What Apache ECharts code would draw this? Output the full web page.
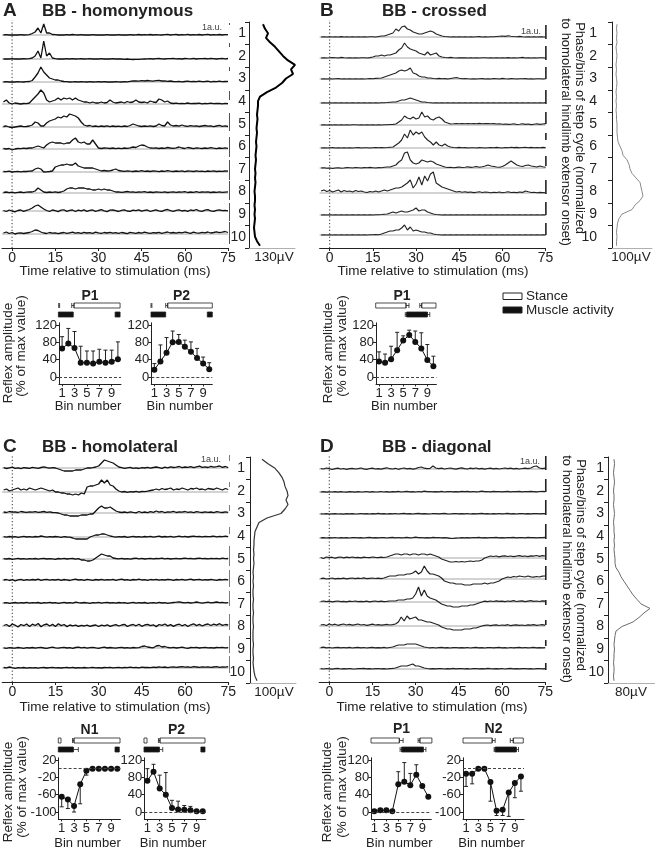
<!DOCTYPE html>
<html><head><meta charset="utf-8">
<script src="https://cdn.jsdelivr.net/npm/echarts@6/dist/echarts.min.js"></script>
<style>html,body{margin:0;padding:0;background:#fff}#c{width:655px;height:853px}</style>
</head><body><div id="c"></div>
<script>
// ---------------- DATA ----------------
const timeStart = -3;            // ms, first sample (1 ms sampling)
const timeTicks = [0, 15, 30, 45, 60, 75];
const binValues = [1, 2, 3, 4, 5, 6, 7, 8, 9, 10];
const binBounds = [0.5, 1.5, 2.5, 3.5, 4.5, 5.5, 6.5, 7.5, 8.5, 9.5, 10.5];
const binTickLabels = [1, 3, 5, 7, 9];
const profileBinStart = 0.6, profileBinStep = 0.2;

// EMG traces (arbitrary units, 1 ms samples from -3 to 75 ms), bins 1..10
const tracesA = [
[0,0.3,0,0,0.2,0,0.3,0,0.2,0.4, 1.5,3,7,2,11,2,2,0.5,0.3,0, 0.2,0,0.3,0,0.5,0.2,0,0.3,0,0.2, 0,0.3,0,0.2,0,0,0.3,0,0.2,0, 0.3,0,0.2,0,0.4,0,0.2,0.5,0,0.3, 0.2,0.5,0,0.4,0.2,0,0.3,0.6,0,0.3, 0.5,0,0.3,0.2,0.6,0,0.4,0.2,0.5,0, 0.3,0.6,0,0.4,0.2,0.5,0,0.4,0.3],
[0,0.2,0,0.3,0,0.2,0,0.3,0.2,0.4, 1,3,8,1,18,3,6,1,0.3,0, 0.2,0,0.3,0,0.4,0,0.2,0.3,0,0.2, 0.3,0,0.2,0,0.3,0,0.2,0,0.3,0, 0.2,0,-0.3,0,-0.4,-0.5,-0.3,-0.4,-0.2,0, 0.2,0.4,0,0.3,0.5,0.2,0,0.4,0.3,0.6, 0.2,0.4,0,0.5,0.3,0.2,0.6,0,0.4,0.3, 0.5,0.2,0.6,0.3,0,0.4,0.6,0.2,0.5],
[0,0.3,0,0.2,0,0.3,0.2,0,0.3,0.5, 1.5,5,9,15,10,7,4,3,2,2, 1,0.5,0.3,0,0.2,0.4,0,0.3,0.2,0, 0.3,0,0.2,0.4,0,0.3,0,0.2,0,0.3, 0.2,0,0.4,0.2,0.6,1,1.2,0.8,1.4,1, 1.5,1.2,0.8,1.3,1.6,1,1.2,0.7,1,0.5, 0.3,0.6,0.2,0.5,0.8,0.3,0.6,0.4,0.9,0.3, 0.5,0.8,0.2,0.6,0.4,0.9,0.3,0.5,0.7],
[2,4,1,0,1,0.5,0,0.5,0.3,1, 4,7,10,14,11,4,2,3,4,6, 4,6,5,6,4,6,4,3,2,2, 1,2,1,1,2,1,1.5,4,2,1, 1.5,2,1,2.5,1.5,2,4,2,1.5,2, 1,3,2,1.5,5,4,2,3,1,0.5, 0.8,0.3,0.6,0.4,1,0.3,0.7,0.5,0.8,0.2, 0.6,0.4,0.9,0.3,0.5,0.7,0.2,0.6,0.4],
[0.5,1,0,-0.5,0,0.5,1,0.3,0.5,1, 2,5,4,1,1,4,6,7,8,10, 9,11,10,13,12,11,9,5,2,1, 1.5,0.5,1,0.3,1,0.5,1.2,0.4,1,0.5, 0.8,0.3,1,0.5,1.5,3,2,1,0.5,1, 0.6,1.2,0.5,1,3,1.5,1,5,2,1, 1.5,0.8,2,1,0.6,1.4,0.8,1.2,0.5,1, 1.5,0.8,1.2,0.4,1,1.6,0.7,1.2,0.5],
[0.5,0,0.5,-1,0,0.5,0.3,0.8,0.5,1, 1,2,3,2,1,4,6,7,6,6, 6,5,6,6,9,11,7,6,7,5, 5,9,5,1,0.5,1,0.8,0.5,1,0.3, 0.8,0.4,1,0.6,1.2,2,1.5,3,4,3.5, 2,1,0.8,1.2,0.5,1,0.7,1.5,1,0.6, 1.2,2,1,0.5,1.5,1,0.4,1.2,0.8,0.5, 1,0.6,1.4,0.8,0.3,1,0.6,1.2,0.7],
[0.5,0.3,0.8,0,0.4,0.6,0.2,0.7,0.5,0.8, 1,3,4,3,0,0.2,0.5,1,5,6, 7,7,8,7,7,9,6,5,4,4, 4,4,3,2,1,1.5,1,1.2,2,3, 1.5,1,0.6,1.2,0.8,0.5,1,0.7,1.4,0.6, 1,0.5,1.2,0.8,0.4,1,0.6,1.3,0.8,0.5, 1,0.7,1.2,0.4,1,0.8,0.5,1.1,0.6,0.9, 0.4,1,0.7,1.2,0.5,0.9,0.6,1,0.8],
[0.5,1,0.3,0.8,0.2,0.6,1,0.4,0.8,1, 1,2,5,3,1,0.5,1,0.6,1.2,0.5, 1,2,4,5,5,4,5,5,5,4, 4,3,3,4,3,4,3,3,2,1, 1.2,0.6,1,1.5,0.8,1.2,0.6,1,0.8,1.3, 0.7,1,0.5,1.2,0.9,0.6,1.1,0.5,0.9,1.2, 0.6,1,0.8,1.4,0.5,1,0.7,1.3,0.6,1, 0.8,1.2,0.5,1,0.7,1.1,0.6,0.9,1.2],
[0.5,-0.5,1,0,-0.8,0.5,1,-0.3,0.6,1.5, 3,5,6,4,2,0.5,-0.5,1,0.3,-0.6, 0.8,1.2,-0.4,0.6,1,-0.5,0.8,0.2,1.2,-0.3, 0.6,1,-0.4,0.5,1.3,0.2,-0.6,0.8,1,0.3, -0.5,0.7,1.1,0,-0.4,0.9,0.3,1.2,-0.2,0.6, 1,-0.5,0.4,1.2,0.2,-0.4,0.8,1.5,0.3,-0.3, 0.6,1.2,0,0.7,-0.4,1,0.4,1.5,0.2,-0.3, 0.8,1.3,0.2,-0.4,0.7,1.1,0.3,0.6,0.2],
[1,2,0.5,1.5,0,0.8,1.2,0.5,1,1.5, 2.5,4,3.5,2,1,0.5,1.5,0.8,1.2,0.4, 1,1.5,0.6,1.2,1.8,0.8,1.4,0.6,1.6,1, 1.4,0.7,1.8,1.1,0.6,1.5,1,1.7,0.8,1.3, 0.6,1.5,1,0.4,1.6,1.2,0.7,1.5,0.9,1.8, 1.2,0.6,1.4,1,1.7,0.7,1.3,2,1,1.5, 0.8,1.6,1.1,2,1.3,0.7,1.8,1.2,0.9,1.6, 1.2,2,1,1.5,2.2,1.3,1.8,2.5,1.5]
];
const tracesB = [
[0,0.2,0,0.3,0,0.2,0,0.4,0,0.2, 0,0.3,0,0.2,0,0.3,0,0.2,0.3,0, 0.5,1,1,2,3,4,8,6,10,11, 8,7,5,4,3,3,4,5,6,5, 3,2,1,0.5,0.3,0,0.2,0,0.3,0, 0.2,0,0.3,0,0.2,0.4,0,0.2,0,0.3, 0.2,0.5,0.8,1,0.6,1.2,0.8,0.5,0.3,0.6, 0.2,0,0.3,0,0.2,0,0.3,0.1,0],
[0,0.3,0,0.2,0.5,0.3,0,0.6,0.2,0, 0.3,0,0.2,0,0.3,0.2,0,0.4,1,2, 2,3,2,3,3,4,5,8,10,15, 11,9,8,7,5,4,3,6,3,4, 5,2,1,0.5,0.3,0.6,0.2,0,0.3,0.1, 0.2,0,0.3,0,0.2,0,0.3,0.2,0,0.2, 0,0.3,0,0.2,0,0.4,0,0.2,0,0.3, 0.6,0,0.2,0,0.3,0,0.2,0.3,0],
[0,0.2,0,0.3,0,0.2,0.4,0,0.2,0, 0.3,0,0.2,0,0.3,0,0.2,0.5,0.3,0.6, 0.8,1,2,3,4,5,6,8,9,8, 9,11,6,5,3,2,2,1,1,0.5, 0.3,0.6,0.2,0.4,0,0.5,1,1.5,0.8,0.3, 0.5,0.2,0,0.3,0,0.2,0.4,0,0.2,0, 0.5,0.3,0,0.6,0.2,0,0.4,0.2,0,0.3, 0.2,0.4,0,0.2,0,0.3,0.2,0,0.2],
[0,0.2,0,0.2,0,0.3,0,0.2,0,0.2, 0,0.2,0,0.3,0,0.2,0,0.2,0,0.3, 0,0.2,0.3,0.5,0.8,1,1,2,3,3, 4,5,4,3,2,1,1,0.5,0.3,0, 0.2,0,0.3,0,0.2,0,0.2,0,0.3,0, 0.2,0,0.3,0,0.2,0,0.3,0,0.2,0, 0.2,0,0.3,0,0.2,0,0.3,0,0.2,0, 0.3,0,0.2,0,0.3,0,0.2,0,0.4],
[0,0.3,0,0.2,0,0.3,0,0.2,0,0.3, 0,0.2,0.3,0,0.2,0,0.3,0,0.2,0, 0.3,0,0.2,0.3,0.5,0.6,1,3,5,9, 7,6,8,6,7,13,8,9,6,5, 7,8,6,3,2,1,1.2,1.5,1.2,1.5, 1.3,1.5,1.2,1.5,1.3,1.6,1.2,1.4,1.5,1.2, 1.4,1,1.2,0.8,1,0.6,0.8,1.2,0.5,0.8, 1.2,0.6,1,0.4,0.8,1.2,0.6,1,1.4],
[0,0.3,0,0.2,0.4,0,0.3,0,0.2,0, 0.3,0,0.2,0.4,0,0.3,0.2,0,0.3,0.5, 0.2,0.4,0.3,0.5,0.8,1,3,5,8,14, 10,18,13,16,14,16,11,8,6,3, 6,3,2,4,2,1,0.5,0.3,0.6,0.2, 0.4,0,0.3,0.2,0,0.4,0.2,0,0.3,0.5, 0.2,0.6,0.3,0,0.5,0.2,0.8,0.4,0.6,0.2, 0.5,0.8,0.3,0.6,0.2,0.5,0.3,0.6,0.4],
[0,0.3,-0.3,0,-0.5,0,0.3,-0.2,0,0.4, 0.2,0,0.5,0.3,0,0.4,0.2,0.6,0.3,0, 0.4,0.3,0.8,1,1,2,3,6,8,15, 16,8,5,4,5,8,7,6,7,6, 4,3,2,1,0.5,0.8,0.3,0.6,1,0.5, 0.8,1.2,0.6,1,1.5,0.8,1.2,2,3,2, 1.5,1,0.8,1.5,3,5,7,5,3,2, 1.5,2.5,3,2,1.5,1,2,1.2,0.8],
[2,3,1.5,2.5,1,2,3,1,2.5,1.5, 2,1,2.5,1.5,2,1,0.5,1.5,1,2, 1,2,3,2,3,4,5,5,6,8, 10,13,5,9,16,8,17,12,19,21, 10,8,6,5,4,3,2,1,1.5,0.8, 1.2,0.6,1,0.4,0.8,1.2,0.5,1,0.7,0.3, 0.8,0.5,1,0.3,0.7,1.2,0.5,0.8,0.4,1, 0.6,2,1.2,0.5,0.8,0.3,0.6,0.4,0.2],
[0,0.2,0,0.3,0,0.2,0,0.2,0,0.3, 0,0.2,0,0.3,0,0.2,0,0.3,0,0.2, 0.3,0.5,0.8,1,2,3,2,3,4,3, 3,4,5,7,4,5,5,3,2,1, 0.5,0.3,0,0.2,0,0.3,0,0.2,0,0.3, 0,0.2,0,0.3,0,0.2,0,0.3,0,0.2, 0,0.3,0,0.2,0,0.3,0,0.2,0,0.3, 0,0.2,0,0.3,0,0.2,0,0.3,0],
[0,0.2,0,0.3,0,0.2,0,0.3,0,0.2, 0,0.3,0,0.2,0,0.3,0,0.2,0.3,0.5, 0.3,1,2,3,4,4,5,5,7,10, 5,8,4,5,4,3,3,2,2,1, 0.5,0.3,0,0.2,0,0.3,0,0.2,0,0.3, 0,0.2,0,0.3,0,0.2,0,0.3,0,0.2, 0,0.3,0,0.2,0,0.3,0,0.2,0,0.3, 0,0.2,0,0.3,0,0.2,0,0.3,0]
];
const tracesC = [
[0.3,-0.5,0.2,0.8,-0.3,0.2,-0.6,0.4,0,-0.4, 0.6,0.2,-0.3,0.5,1.2,0.4,-0.2,0.3,0,-1, -2,-3,-3,-3,-3,-2,-2,-2,-1,0, 0,0.3,1,2,5,8,7,6,5,3, 1,0.3,-0.4,0.2,0.6,-0.3,0.2,-0.5,0.4,0, 0.6,-0.2,0.5,1,0.3,-0.4,0.8,0.2,1.2,0.5, 0.8,1.5,0.4,1,0.6,1.4,0.3,1.1,1.8,0.6, 1.2,0.5,1.6,0.8,1.3,2,0.7,1.5,0.4],
[2,3,1,2,3,4,2,3,2,4, 3,2,3,4,3,2,1,2,0,0, -1,-1,-2,-2,-3,-2,-3,-1,-2,5, 6,6,7,8,12,9,12,7,6,3, 1,0,0.5,-0.3,0.4,0,0.6,-0.2,0.5,0.3, 0.8,1.5,2,3,2,3.5,2.5,3,4,2, 3,2.5,4,3,2,3.5,3,4,2.5,3, 2,3.5,3,2.5,4,3,2,3.5,2.5],
[1,0.5,1.5,0.8,1.2,0.5,1.5,1,0.6,1.2, 0.8,1.4,0.6,1,1.5,0.7,1.2,0.5,0.3,0, -1,-2,-2,-3,-3,-3,-3,-2,-2,-2, -1,-1,2,5,7,5,5,6,4,2, 1,0.5,1,0.3,1.2,0.6,0.2,1.5,0.4,1, 0.3,1.4,0.6,2,0.8,1.5,0.4,1.2,0.8,1.6, 0.5,1.2,0.9,1.5,0.6,1.1,0.4,1.3,0.8,0.5, 1.2,0.7,1,0.4,1.3,0.8,0.5,1.1,0.6],
[0.3,-0.2,0.5,0,0.4,-0.3,0.2,0.6,0,0.3, -0.2,0.5,0.2,1,0.4,-0.2,0.3,0,0.5,0.2, -0.3,0.4,0,-0.2,-1,-2,-2,-2,-2,-2, 0,1,2,2,3,3,2,1,0.3,-0.2, 0.4,0,0.5,-0.3,0.2,0.6,0,0.3,-0.2,0.5, 0.1,0.6,-0.2,0.4,0.8,0,0.5,0.2,0.7,-0.1, 0.4,0.9,0.2,0.6,0,0.5,0.8,0.3,0.6,0.2, 0.7,0.3,0.5,0.9,0.2,0.6,0.4,0.8,0.3],
[0.3,0,0.5,-0.3,0.2,0.6,0,0.3,-0.2,0.4, 0.1,0.5,-0.2,0.3,0.6,0,0.4,0.2,-0.3,0.5, 0.2,0.6,0,0.3,0.5,-0.2,0.4,-1,-1,-2, -2,-1,1,3,5,4,3,3,1,0.5, 0.2,0.6,0,0.4,-0.2,0.5,0.8,0.2,0.6,0, 0.4,0.7,0.1,0.5,0.3,0.8,0.2,0.6,0,0.4, 0.7,0.2,0.5,0.9,0.3,0.6,0.1,0.5,0.8,0.3, 0.5,0.2,0.7,0.4,0.6,0.2,0.8,0.4,0.5],
[0,0.5,-0.5,0.3,-0.8,0.2,0.6,-0.3,0.4,-0.2, 0.5,0,0.8,-0.4,0.3,0.6,-0.2,0.4,0,0.7, -0.3,0.5,0.2,-0.5,0.4,0.8,0,0.3,-0.4,0.6, 0.2,-0.3,0.5,0,0.7,-0.2,0.4,0.1,0.6,-0.3, 0.3,0.8,0,0.4,-0.3,0.5,0.2,0.9,0,0.3, -0.4,0.5,0.2,0.7,-0.2,0.4,0,0.6,0.3,-0.3, 0.5,0.1,0.7,-0.2,0.4,0.8,0,0.3,0.6,-0.2, 0.4,0,0.6,0.2,-0.3,0.5,0.1,0.7,0.2],
[0,0.4,-0.3,0.2,0.5,-0.2,0.3,0,0.6,-0.2, 0.3,0.1,0.5,-0.3,0.4,0.2,0.7,0,0.3,-0.4, 0.2,0.6,0,0.4,-0.2,0.8,0.3,0,0.5,0.2, -0.3,0.4,0.1,0.6,-0.1,0.3,0.7,0,0.4,-0.2, 0.5,0.1,0.3,-0.4,0.2,0.6,-0.2,0.3,0,0.5, -0.3,0.2,0.4,-0.2,0.6,0,0.3,-0.4,0.2,0.5, 0.8,1.2,0.5,0.2,0.6,0,0.4,1,0.3,-0.2, 0.4,0.8,0.2,0.5,1,0.3,0.6,0.2,0.4],
[0.5,1.5,-0.5,2,0.8,-1,1.5,0.3,2,-0.5, 1.8,0.5,2.5,-0.8,1.2,2,0,1.6,-0.5,2.2, 0.4,1.5,-0.6,1,0.2,0.8,-0.4,0.6,0,0.9, -0.3,0.5,1,-0.5,0.8,0.2,1.2,-0.4,0.7,1.4, 0,1,1.6,-0.5,0.8,1.5,0.2,1.8,-0.3,1, 1.7,0.3,1.2,-0.6,1.5,0.6,2,0.1,1.4,-0.4, 1.1,1.8,0.2,1.5,-0.5,1.2,2.2,0.4,1.6,0, 1.3,2,0.5,1.8,0.8,2.3,0.6,1.5,1],
[0.2,-0.3,0.4,0,-0.2,0.5,0.1,-0.4,0.3,0, 0.5,-0.2,0.3,0.6,0,-0.3,0.4,0.8,0.2,-0.2, 0.3,0.7,0,0.4,-0.3,0.5,0.9,0.2,0.6,-0.1, 0.3,0.7,0.1,-0.3,0.4,0.8,0,0.5,0.2,-0.2, 0.4,0.6,0,0.3,-0.2,0.5,0.2,0.4,1.5,2, 1,0.5,0.2,2,2.5,1,1.5,0.5,0.2,0.6, 0,0.4,0.8,0.2,-0.3,0.5,0.3,0.7,0,0.4, 0.6,0.2,0.4,0,0.5,0.3,0.6,0.2,0.4],
[0.5,0.2,1,0.3,-0.3,0.4,0.1,0.5,-0.2,0.3, 0.1,0.4,-0.2,0.3,0.5,0,0.3,0.6,0.1,0.4, 0,0.3,0.5,0.2,0.6,0,0.4,0.2,0.5,0.1, 0.3,0.6,0.2,0.4,0,0.5,0.3,0.7,0.1,0.4, 0.6,0.2,0.5,0.3,0.8,0.4,0.6,0.2,0.9,0.5, 0.7,0.3,0.9,0.5,1.1,0.6,1,0.4,0.8,1.2, 0.6,1,1.4,0.8,1.2,0.7,1.3,1,0.6,1.1, 0.8,1.2,0.6,1,1.3,0.7,1.1,0.9,1.4]
];
const tracesD = [
[0.5,0,1,0.3,-0.5,0.4,0.8,0,0.5,-0.3, 0.3,0.7,0,0.4,1,0.2,-0.4,0.5,0.8,0, 0.4,-0.2,0.6,1.2,0.3,0,0.7,-0.3,0.5,1, 0.2,0.6,-0.2,0.4,1.5,2,0.8,0.3,0.6,3, 1,0.4,0.8,0,0.5,1,0.3,-0.2,0.6,1.2, 0.4,0,0.8,0.3,1,0.2,0.6,-0.1,0.5,0.9, 0.2,0.7,0,0.5,1,0.3,0.8,0.2,0.6,0, 0.5,0.9,0.3,1,2.5,3,1,0.4,0.8],
[0,0.3,-0.2,0.2,0,0.4,-0.1,0.3,0,-0.2, 0.3,0.1,-0.2,0.4,0,0.2,0.5,-0.1,0.3,0, 0.2,0.5,0,0.3,-0.2,0.4,0.1,0.6,0,0.3, 0.7,0.2,0.4,0,0.5,0.2,0.8,0.3,0.5,0.1, 0.4,0.2,0.6,0,0.3,0.5,0.1,0.4,0.2,0.6, 0.3,0.7,0.1,0.5,0.2,0.4,0.8,0.3,0.5,0.2, 0.6,0.3,0.5,0.1,0.4,0.7,0.2,0.5,0.3,0.6, 0.2,0.5,0.3,0.6,0.4,0.2,0.5,0.7,0.4],
[0.2,0,0.3,-0.2,0.1,0.4,0,0.2,-0.1,0.3, 0.1,0.4,0,0.2,0.5,0.1,0.3,0,0.4,0.2, 0.6,0.1,0.3,0,0.4,0.2,0.5,0,0.3,0.6, 0.2,0.4,0,0.3,0.6,0.1,0.4,0.2,0,0.5, 0.3,0.1,0.4,0.6,0.2,0,0.3,0.5,0.1,0.4, 0.2,0.5,0,0.3,0.1,0.4,0.6,0.2,0.3,0, 0.4,0.2,0.5,0.1,0.3,0.6,0.2,0.4,0,0.3, 0.5,0.2,0.4,0.1,0.3,0.5,0.2,0.4,0.3],
[0.2,0.4,0,0.3,0.1,0.5,0,0.3,0.2,0.4, 0,0.3,0.5,0.1,0.4,0,0.3,0.6,0.2,0.4, 0.1,0.5,0.3,0,0.4,0.7,0.2,0.5,0.1,0.3, 0.6,0.2,0.4,0.8,0.3,0.5,0.1,0.4,0.2,0.6, 0.3,0.5,0.1,0.4,0.2,-0.3,-0.5,-0.2,0,0.3, 0.1,0.4,0.2,0.5,0.3,0.6,0.2,0.4,0.1,0.5, 0.3,0.6,0.2,0.4,0.1,0.5,0.3,0.6,0.2,0.4, 0.5,0.2,0.6,0.3,0.4,0.1,0.5,0.3,0.6],
[0.5,-0.5,1,0.3,0.8,-0.2,0.6,1,0.2,0.8, 0.4,1,0.3,0.7,0.2,0.9,0.5,0.3,1,0.6, 0.3,0.8,0.5,1,2,3,4,4,3,4, 4,3,4,4,3,4,4,3,4,3, 2,1,-1,-2,-3,-4,-4,-3.5,-4,-3.5, -4,-3.5,-3,-3.5,-3,-3,-2,0,1,2, 1.5,2,1.2,1.8,2.2,1.5,2,1.3,1.8,2.4, 1.6,2,1.4,2.2,1.8,2.5,1.7,2.3,2],
[0.3,0.8,0,0.5,1,0.2,0.7,0.4,0.9,0.2, 0.6,1,0.3,0.8,0.5,1.2,0.4,0.7,1,0.5, 0.8,0.4,1,2,3,3,3,4,4,4, 5,5,6,8,5,7,13,8,5,5, 4,3,1,-2,-3,-4,-4,-5,-5,-5, -6,-6,-6,-5,-5,-5,-5,-4,-5,-4, -4,-3,-2,0,1,2,1.5,2.5,2,3, 2.5,2,3,2.2,1.8,2.5,2,2.8,3],
[0.5,1,0.3,0.8,0.2,0.6,1,0.4,0.7,0.2, 0.8,0.5,1,0.3,0.7,0.4,0.9,0.2,0.6,1, 0.4,0.8,0.3,0.6,1,1,1,2,2,2, 3,3,4,8,15,6,12,6,4,3, 2,0,-2,-3,-4,-4,-5,-5,-5,-4, -4,-4,-3,-3,-2,-1,0,0.8,0.3,1, 0.5,1.2,0.6,0.9,0.3,1,0.7,1.3,0.5,0.8, 1.1,0.4,0.9,1.3,0.6,1,0.5,1.2,0.8],
[1,1.5,0.5,2,1,1.8,0.7,1.4,2,1, 1.6,0.8,1.3,2,1,1.5,0.6,1.2,1.8,1, 1.4,0.8,1.2,1.6,1,1.4,2,4,9,5, 10,7,8,9,6,6,5,4,4,3, 2,1,-1,-2,-3,-3,-4,-4,-4,-4, -3,-3,-3,-2,-2,-1,0,0.6,1,0.4, 0.8,1.2,0.5,1,0.7,1.3,0.4,0.9,1.2,0.6, 1,0.5,1.2,0.8,1.4,0.6,1,1.3,0.7],
[0.3,0.8,0.2,0.5,0,0.4,0.7,0.1,0.5,0.2, 0.6,0,0.4,0.7,0.2,0.5,0,0.3,0.6,0.1, 0.4,0.2,0.6,0,0.5,1,2,3,3,3, 4,4,4,4,3,2,1,0.5,0.2,0.5, 0,0.3,0.6,0.1,0.4,0,0.3,0.5,0.1,0.4, 0.2,0.5,0,0.3,0.6,0.2,0.4,0,0.3,0.5, 0.1,0.4,0.6,0.2,0.3,0,0.5,0.2,0.4,0.6, 0.2,0.5,0.1,0.3,0.6,0.2,0.4,0.1,0.3],
[0.4,0,0.5,0.2,-0.2,0.3,0.6,0,0.4,0.1, 0.5,0.2,0,0.4,0.3,0.6,0.1,0.4,0,0.3, 0.5,0.2,0.4,0,0.3,0.6,1,2,3,3, 3,4,5,3,3,2,1,0.5,0.2,0.4, 0.1,0.3,0.5,0,0.4,0.2,0.6,0.1,0.3,0.5, 0.2,0.4,0,0.3,0.5,0.1,0.4,0.2,0.6,0.3, 0.1,0.4,0.2,0.5,0,0.3,0.6,0.2,0.4,0.1, 0.3,0.5,0.2,0.4,0,0.3,0.5,0.2,0.4]
];
// 1 a.u. calibration bars [bottom, top] per trace
const scaleBarsA = [[10,12],[12,16],[11,15],[4,13],[-4,14],[-8,12],[-8,12],[-7,12],[-10,8],[-10,12]];
const scaleBarsB = [[-2,12],[-2,12],[0,12],[-1,13],[1,13],[8,15],[2,12],[-1,13],[0,13],[0,12]];
const scaleBarsC = [[7,13],[5,10],[2,8],[3,10],[-7,13],[-7,10],[-3,12],[-4,12],[-5,12],[-5,12]];
const scaleBarsD = [[-1,13],[0,13],[-1,14],[-1,14],[-2,11],[-1,13],[-3,2],[1,6],[2,8],[-1,6]];

// extensor EMG profiles over the step cycle (sampled every 0.2 bin from 0.6 to 10.4)
const profileA = [14,16,19,17,21,26,30,34,39,46, 42,44,37,33,27,18,11,9,9,8.5, 8,8.5,8,7.5,8,7.5,7,7.5,7,6.5, 7,6.5,6,6.5,6,6.5,6,5.5,6,6, 5.5,6,5.5,6,5.5,5,5.5,6,8,11];
const profileB = [5,4.5,5,4.5,5,4,4.5,5,4.5,4, 4.5,4,4.5,5,4.5,4,4.5,4,4.5,4, 4.5,4.5,5,5,5,5.5,6,8,10,11, 15,17,18,20,24,28,29,30,31,28, 23,20,10,7,5.5,5,4.5,5,4.5,4.5];
const profileC = [12,18,25,29,32,34,35,37,38,36, 38,35,31,17,9,7,5,4.5,4,4, 3.5,4,3.5,4,3.5,3,3.5,3,3.5,3, 3,3.5,3,3,3.5,3,3,3.5,3,3, 3,3.5,3,3,3.5,3,3.5,4,5,7];
const profileD = [6,6.5,6,5.5,6,6.5,6,5.5,6,6, 5.5,6,6.5,6,5.5,6,6,6.5,6,6.5, 6,6.5,7,7,8,11,13,16,19,22, 25,29,33,42,36,31,25,14,8,7, 6.5,6,6.5,6,6,5.5,6,6,5.5,6];

// reflex amplitude (% of max) per bin: mean and SD end
const ampA_P1 = [66,77,67,33,33,31,35,33,35,41];
const sdA_P1  = [93,112,105,71,60,60,64,62,62,81];
const ampA_P2 = [17,36,56,80,81,70,58,44,31,18];
const sdA_P2  = [31,74,91,106,98,85,81,66,46,33];
const ampB_P1 = [36,33,41,62,84,97,81,66,39,25];
const sdB_P1  = [58,53,71,103,95,108,106,102,75,48];
const ampC_N1 = [-65,-71,-86,-36,-5,0,0,0,0,0];
const sdC_N1  = [-88,-92,-100,-81,-15,null,null,null,null,null];
const ampC_P2 = [72,93,54,40,9,6,5,4,1.5,1.5];
const sdC_P2  = [100,110,85,91,27,25,15,13,null,null];
const ampD_P1 = [2,4,4,2,64,70,62,86,60,35];
const sdD_P1  = [5,8,8,5,93,114,89,109,null,null];
const ampD_N2 = [-12,-12,0,0,-31,-97,-95,-55,-33,-18];
const sdD_N2  = [-41,-35,null,null,-75,-108,-108,-110,-67,-52];

// phase bars above each reflex plot: [start bin, row(0 stance / 1 muscle), end bin, filled]
const barsA_P1 = [[2.92,0,10.35,0],[0.4,1,2.8,1],[9.55,1,10.35,1]];
const sdBarsA_P1 = [[0.45,0,0.6],[2.55,0,2.92]];
const barsA_P2 = [[3.19,0,10.5,0],[0.45,1,2.86,1],[9.68,1,10.5,1]];
const sdBarsA_P2 = [[0.45,0,0.6],[2.86,0,3.19]];
const barsB_P1 = [[0.45,0,5.47,0],[8.07,0,10.43,0],[5.58,1,9.0,1]];
const sdBarsB_P1 = [[5.47,0,5.96],[7.75,0,8.07],[5.35,1,5.58],[9.0,1,9.4]];
const barsC_N1 = [[0.45,0,0.89,0],[2.99,0,10.44,0],[0.45,1,2.88,1],[9.63,1,10.32,1]];
const sdBarsC_N1 = [[2.75,0,2.99],[2.88,1,3.69]];
const barsC_P2 = [[0.45,0,0.94,0],[3.05,0,10.37,0],[0.45,1,2.94,1],[9.7,1,10.37,1]];
const sdBarsC_P2 = [[2.8,0,3.05],[2.94,1,3.5]];
const barsD_P1 = [[0.45,0,5.17,0],[8.6,0,10.6,0],[5.57,1,9.17,1]];
const sdBarsD_P1 = [[5.17,0,5.8],[8.3,0,8.6],[5.3,1,5.57],[9.17,1,9.6]];
const barsD_N2 = [[0.5,0,5.28,0],[8.74,0,10.38,0],[5.77,1,9.23,1]];
const sdBarsD_N2 = [[5.28,0,5.77],[8.25,0,8.74],[5.6,1,5.77],[9.23,1,9.6]];

// ---------------- LAYOUT ----------------
const FONT = '"Liberation Sans", Arial, Helvetica, sans-serif';
const T_MIN = -3.5, T_MAX = 75;
const grid = [], xAxis = [], yAxis = [], series = [], graphic = [];

function addPair(g, xa, ya) {
  grid.push(g); const gi = grid.length - 1;
  xAxis.push(Object.assign({gridIndex: gi}, xa));
  yAxis.push(Object.assign({gridIndex: gi}, ya));
  return {xi: xAxis.length - 1, yi: yAxis.length - 1, gi};
}
function hidden(min, max, extra) {
  return Object.assign({type: 'value', min, max, show: false, splitLine: {show: false}}, extra || {});
}
function txt(x, y, text, size, o) {
  o = o || {};
  const al = o.align || 'center';
  graphic.push({type: 'text', x, y, rotation: o.rot || 0, silent: true, z: 100,
    style: {text, fontSize: size, fontFamily: FONT, fontWeight: o.bold ? 'bold' : 'normal',
      fill: o.color || '#222', align: al, verticalAlign: 'middle', textAlign: al, textVerticalAlign: 'middle'}});
}

function tracePanel(L, traces, bars) {
  traces.forEach((vals, k) => {
    const b = L.base[k];
    const ax = addPair({left: L.left, top: b - 16, width: L.width, height: 24}, hidden(T_MIN, T_MAX), hidden(-8, 16));
    series.push({type: 'line', xAxisIndex: ax.xi, yAxisIndex: ax.yi, data: [[T_MIN, 0], [T_MAX, 0]],
      symbol: 'none', silent: true, z: 1, lineStyle: {color: '#a6a6a6', width: 1}});
    series.push({type: 'line', xAxisIndex: ax.xi, yAxisIndex: ax.yi, data: vals.map((v, i) => [timeStart + i, v]),
      symbol: 'none', clip: false, silent: true, z: 2, lineStyle: {color: L.color, width: L.lw}});
    series.push({type: 'line', xAxisIndex: ax.xi, yAxisIndex: ax.yi, data: [[L.barT, bars[k][0]], [L.barT, bars[k][1]]],
      symbol: 'none', clip: false, silent: true, z: 2, lineStyle: {color: '#222', width: 1.6}});
  });
  const ax = addPair({left: L.left, top: L.axTop, width: L.width, height: L.axY - L.axTop},
    {type: 'value', min: T_MIN, max: T_MAX, splitLine: {show: false},
      axisLine: {onZero: false, lineStyle: {color: '#222', width: 1}},
      axisTick: {customValues: timeTicks, length: 3, lineStyle: {color: '#222'}},
      axisLabel: {customValues: timeTicks, fontSize: 14, margin: 3, color: '#222', fontFamily: FONT}},
    hidden(0, 1));
  series.push({type: 'line', xAxisIndex: ax.xi, yAxisIndex: ax.yi, data: [[0, 0], [0, 1]], symbol: 'none', silent: true,
    z: 0, lineStyle: {color: '#333', width: 1, type: [1.2, 2.2]}});
}

function profilePanel(L, prof) {
  const ax = addPair({left: L.left, top: L.top, width: L.w, height: L.h},
    {type: 'value', min: 0, max: L.w, splitLine: {show: false},
      axisLine: {onZero: false, lineStyle: {color: '#b0b0b0'}}, axisTick: {show: false}, axisLabel: {show: false}},
    {type: 'value', min: 0.5, max: 10.5, inverse: true, position: 'left', splitLine: {show: false},
      axisLine: {onZero: false, lineStyle: {color: '#222'}},
      axisTick: {customValues: binBounds, length: 4, lineStyle: {color: '#222'}},
      axisLabel: {show: false}});
  series.push({type: 'line', xAxisIndex: ax.xi, yAxisIndex: ax.yi, symbol: 'none', clip: false, silent: true,
    data: prof.map((v, i) => [v, profileBinStart + i * profileBinStep]),
    lineStyle: {color: L.color, width: L.lw}});
  // bin number labels (text), placed left of the phase axis
  binValues.forEach(b => txt(L.left - L.margin, L.top + (b - 0.5) * L.h / 10, String(b), 14, {align: 'right'}));
}

function reflexPanel(R) {
  const ticks = R.neg ? [-100, -60, -20, 20] : [0, 40, 80, 120];
  const ax = addPair({left: R.left, top: R.top, width: R.width, height: 61.6},
    {type: 'value', min: 0.5, max: 10.5, splitLine: {show: false},
      axisLine: {onZero: false, lineStyle: {color: '#222'}},
      axisTick: {customValues: binTickLabels, length: 2, lineStyle: {color: '#222'}},
      axisLabel: {customValues: binTickLabels, fontSize: 13, margin: 3, color: '#222', fontFamily: FONT}},
    {type: 'value', min: R.neg ? -117 : -17, max: R.neg ? 25 : 125, splitLine: {show: false},
      axisLine: {onZero: false, lineStyle: {color: '#222'}},
      axisTick: {customValues: ticks, length: 3, lineStyle: {color: '#222'}},
      axisLabel: {customValues: ticks, fontSize: 13, margin: 2, color: '#222', fontFamily: FONT}});
  series.push({type: 'custom', xAxisIndex: ax.xi, yAxisIndex: ax.yi, silent: true, z: 2,
    data: R.mean.map((m, i) => [i + 1, m, R.sd[i]]).filter(d => d[2] != null),
    renderItem: (p, api) => {
      const a = api.coord([api.value(0), api.value(1)]);
      const b = api.coord([api.value(0), api.value(2)]);
      return {type: 'group', children: [
        {type: 'line', shape: {x1: a[0], y1: a[1], x2: b[0], y2: b[1]}, style: {stroke: '#222', lineWidth: 1}},
        {type: 'line', shape: {x1: b[0] - 2, y1: b[1], x2: b[0] + 2, y2: b[1]}, style: {stroke: '#222', lineWidth: 1}}]};
    }});
  series.push({type: 'line', xAxisIndex: ax.xi, yAxisIndex: ax.yi, silent: true, z: 3,
    data: R.mean.map((m, i) => [i + 1, m]), symbol: 'circle', symbolSize: 6,
    itemStyle: {color: '#111'}, lineStyle: {color: '#111', width: 1},
    markLine: {silent: true, symbol: 'none', label: {show: false}, animation: false,
      lineStyle: {color: '#444', type: [3, 2], width: 1}, data: [{yAxis: 0}]}});
  // phase bars
  const hx = addPair({left: R.left, top: R.hdrTop, width: R.width, height: 18}, hidden(0.5, 10.5), hidden(0, 2, {inverse: true}));
  series.push({type: 'custom', xAxisIndex: hx.xi, yAxisIndex: hx.yi, silent: true, data: R.bars,
    renderItem: (p, api) => {
      const a = api.coord([api.value(0), api.value(1) + 0.5]);
      const b = api.coord([api.value(2), api.value(1) + 0.5]);
      return {type: 'rect', shape: {x: a[0], y: a[1] - 2.5, width: b[0] - a[0], height: 5},
        style: {fill: api.value(3) ? '#111' : '#fff', stroke: '#222', lineWidth: 0.8}};
    }});
  series.push({type: 'custom', xAxisIndex: hx.xi, yAxisIndex: hx.yi, silent: true, data: R.sdBars,
    renderItem: (p, api) => {
      const a = api.coord([api.value(0), api.value(1) + 0.5]);
      const b = api.coord([api.value(2), api.value(1) + 0.5]);
      const st = {stroke: '#222', lineWidth: 0.8};
      return {type: 'group', children: [
        {type: 'line', shape: {x1: a[0], y1: a[1], x2: b[0], y2: b[1]}, style: st},
        {type: 'line', shape: {x1: a[0], y1: a[1] - 2.5, x2: a[0], y2: a[1] + 2.5}, style: st},
        {type: 'line', shape: {x1: b[0], y1: b[1] - 2.5, x2: b[0], y2: b[1] + 2.5}, style: st}]};
    }});
  txt(R.titleX, R.titleY, R.title, 14, {bold: true});
  txt(R.left + R.width / 2 - 2, R.binY, 'Bin number', 13);
}

// trace panels
tracePanel({left: 2, width: 226, base: [35,59,82,104,127,149,172,193,211,234], axTop: 20, axY: 248, barT: 75.7, color: '#111', lw: 1.3}, tracesA, scaleBarsA);
tracePanel({left: 319.6, width: 226, base: [37,58,79,103,125,148,168,193,215,235], axTop: 20, axY: 248, barT: 75.1, color: '#222', lw: 1.1}, tracesB, scaleBarsB);
tracePanel({left: 2.2, width: 226, base: [468,492,513,537,559,580,603,626,648,668], axTop: 455, axY: 682, barT: 75.7, color: '#111', lw: 1.3}, tracesC, scaleBarsC);
tracePanel({left: 319.2, width: 226, base: [469,492,514,538,558,579,602,626,648,669], axTop: 455, axY: 682, barT: 75.2, color: '#222', lw: 1.2}, tracesD, scaleBarsD);

// profiles
profilePanel({left: 249, top: 22, w: 46, h: 226, margin: 3, color: '#000', lw: 2}, profileA);
profilePanel({left: 612, top: 22, w: 40, h: 226, margin: 15, color: '#8a8a8a', lw: 1}, profileB);
profilePanel({left: 250, top: 457, w: 46, h: 226, margin: 5, color: '#333', lw: 1.2}, profileC);
profilePanel({left: 608, top: 457, w: 47, h: 226, margin: 4, color: '#6a6a6a', lw: 1}, profileD);

// reflex plots
reflexPanel({mean: ampA_P1, sd: sdA_P1, bars: barsA_P1, sdBars: sdBarsA_P1, neg: false, left: 59, width: 62, top: 322.8, hdrTop: 301, title: 'P1', titleX: 90, titleY: 296.5, binY: 406.5});
reflexPanel({mean: ampA_P2, sd: sdA_P2, bars: barsA_P2, sdBars: sdBarsA_P2, neg: false, left: 151.3, width: 61, top: 322.8, hdrTop: 301, title: 'P2', titleX: 181.5, titleY: 296.5, binY: 406.5});
reflexPanel({mean: ampB_P1, sd: sdB_P1, bars: barsB_P1, sdBars: sdBarsB_P1, neg: false, left: 376, width: 60.4, top: 322.8, hdrTop: 301, title: 'P1', titleX: 402, titleY: 296.5, binY: 406.5});
reflexPanel({mean: ampC_N1, sd: sdC_N1, bars: barsC_N1, sdBars: sdBarsC_N1, neg: true, left: 58.6, width: 61.8, top: 757.8, hdrTop: 736, title: 'N1', titleX: 89.5, titleY: 730, binY: 843});
reflexPanel({mean: ampC_P2, sd: sdC_P2, bars: barsC_P2, sdBars: sdBarsC_P2, neg: false, left: 144.3, width: 61.5, top: 757.8, hdrTop: 736, title: 'P2', titleX: 176.5, titleY: 730, binY: 843});
reflexPanel({mean: ampD_P1, sd: sdD_P1, bars: barsD_P1, sdBars: sdBarsD_P1, neg: false, left: 371.3, width: 60, top: 757.8, hdrTop: 736, title: 'P1', titleX: 401.5, titleY: 729, binY: 843});
reflexPanel({mean: ampD_N2, sd: sdD_N2, bars: barsD_N2, sdBars: sdBarsD_N2, neg: true, left: 463, width: 61, top: 757.8, hdrTop: 736, title: 'N2', titleX: 493.5, titleY: 729, binY: 843});

// texts
txt(3, 11, 'A', 19, {bold: true, align: 'left'});
txt(42, 11, 'BB - homonymous', 17, {bold: true, align: 'left'});
txt(320, 11, 'B', 19, {bold: true, align: 'left'});
txt(382, 11, 'BB - crossed', 17, {bold: true, align: 'left'});
txt(3, 447, 'C', 19, {bold: true, align: 'left'});
txt(42, 447, 'BB - homolateral', 17, {bold: true, align: 'left'});
txt(320, 447, 'D', 19, {bold: true, align: 'left'});
txt(382, 447, 'BB - diagonal', 17, {bold: true, align: 'left'});
[[222, 28], [541, 32], [221, 460], [540, 462]].forEach(p => txt(p[0], p[1], '1a.u.', 9, {align: 'right', color: '#444'}));
[[115, 271], [433, 271], [115, 707], [432, 707]].forEach(p => txt(p[0], p[1], 'Time relative to stimulation (ms)', 13.5));
txt(274, 257, '130µV', 13.5); txt(631, 257, '100µV', 13.5);
txt(274, 692, '100µV', 13.5); txt(631, 692, '80µV', 13.5);
[[579.5, 128, 565.5, 132], [581, 565, 567, 569]].forEach(p => {
  txt(p[0], p[1], 'Phase/bins of step cycle (normalized', 13, {rot: -Math.PI / 2});
  txt(p[2], p[3], 'to homolateral hindlimb extensor onset)', 13, {rot: -Math.PI / 2});
});
[[8.5, 353, 21.5, 346], [328, 353, 342, 346], [8, 792, 22, 787], [327.5, 792, 342, 787]].forEach(p => {
  txt(p[0], p[1], 'Reflex amplitude', 13.5, {rot: Math.PI / 2});
  txt(p[2], p[3], '(% of max value)', 13.5, {rot: Math.PI / 2});
});
// legend
graphic.push({type: 'rect', silent: true, shape: {x: 503, y: 293, width: 19, height: 6.5}, style: {fill: '#fff', stroke: '#222', lineWidth: 1}});
graphic.push({type: 'rect', silent: true, shape: {x: 503, y: 307, width: 19, height: 6}, style: {fill: '#111', stroke: '#222', lineWidth: 1}});
txt(526, 296.5, 'Stance', 13.5, {align: 'left'});
txt(526, 310, 'Muscle activity', 13.5, {align: 'left'});

const chart = echarts.init(document.getElementById('c'), null, {renderer: 'canvas', width: 655, height: 853});
chart.setOption({animation: false, textStyle: {fontFamily: FONT}, grid, xAxis, yAxis, series, graphic});
</script></body></html>
